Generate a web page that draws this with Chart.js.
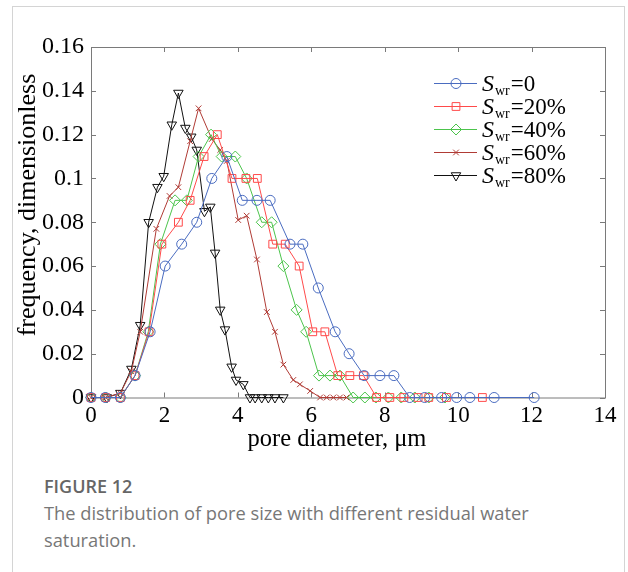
<!DOCTYPE html>
<html>
<head>
<meta charset="utf-8">
<script src="https://cdn.jsdelivr.net/npm/chart.js@4"></script>
<style>
  body { margin: 0; background: #fff; width: 628px; height: 572px; position: relative; overflow: hidden; }
  #card { position: absolute; left: 12px; top: 6px; width: 611px; height: 620px; border: 1px solid #d4d4d4; border-bottom: none; }
  #chart { position: absolute; left: 0; top: 0; }
  #caption { position: absolute; left: 44px; top: 474px; font-family: "Open Sans", sans-serif; color: #777; }
  #caption .fig { font-weight: 600; font-size: 18px; color: #666; line-height: 24px; }
  #caption .txt { font-size: 18.3px; line-height: 27px; margin-top: 1px; }
</style>
</head>
<body>
<div id="card"></div>
<canvas id="chart" width="628" height="470"></canvas>
<div id="caption">
  <div class="fig">FIGURE 12</div>
  <div class="txt">The distribution of pore size with different residual water<br>saturation.</div>
</div>
<script>
// pore diameter (um) / frequency
const sw0X = [0, 0.39, 0.8, 1.2, 1.61, 2.02, 2.47, 2.88, 3.29, 3.70, 4.12, 4.52, 4.88, 5.42, 5.77, 6.19, 6.65, 7.03, 7.44, 7.87, 8.25, 8.68, 9.09, 9.55, 9.96, 10.32, 10.98, 12.07];
const sw0Y = [0, 0, 0, 0.01, 0.03, 0.06, 0.07, 0.08, 0.10, 0.11, 0.09, 0.09, 0.09, 0.07, 0.07, 0.05, 0.03, 0.02, 0.01, 0.01, 0.01, 0, 0, 0, 0, 0, 0, 0];

const sw20X = [0, 0.4, 0.8, 1.2, 1.58, 1.93, 2.38, 2.70, 3.08, 3.44, 3.84, 4.22, 4.53, 4.95, 5.29, 5.67, 6.04, 6.37, 6.72, 7.05, 7.42, 7.78, 8.14, 8.52, 8.91, 9.2, 9.68, 10.66];
const sw20Y = [0, 0, 0, 0.01, 0.03, 0.07, 0.08, 0.09, 0.11, 0.12, 0.10, 0.10, 0.10, 0.07, 0.07, 0.06, 0.03, 0.03, 0.01, 0.01, 0.01, 0, 0, 0, 0, 0, 0, 0];

const sw40X = [0, 0.4, 0.8, 1.2, 1.56, 1.89, 2.29, 2.61, 2.93, 3.27, 3.56, 3.93, 4.24, 4.65, 4.92, 5.24, 5.60, 5.86, 6.21, 6.51, 6.78, 7.14, 7.46, 7.76, 8.1, 8.45, 8.82, 9.2, 9.64];
const sw40Y = [0, 0, 0, 0.01, 0.03, 0.07, 0.09, 0.09, 0.11, 0.12, 0.11, 0.11, 0.10, 0.08, 0.08, 0.06, 0.04, 0.03, 0.01, 0.01, 0.01, 0, 0, 0, 0, 0, 0, 0, 0];

const sw60X = [0, 0.4, 0.8, 1.1, 1.34, 1.78, 2.14, 2.38, 2.70, 2.93, 3.29, 3.52, 3.70, 4.01, 4.24, 4.52, 4.79, 5.01, 5.24, 5.51, 5.69, 5.97, 6.24, 6.42, 6.6, 6.78, 6.96];
const sw60Y = [0, 0, 0.002, 0.012, 0.03, 0.077, 0.092, 0.096, 0.117, 0.132, 0.118, 0.113, 0.108, 0.081, 0.083, 0.063, 0.039, 0.03, 0.015, 0.008, 0.006, 0.003, 0, 0, 0, 0, 0];

const sw80X = [0, 0.43, 0.8, 1.1, 1.34, 1.57, 1.81, 1.98, 2.2, 2.38, 2.57, 2.73, 2.88, 3.09, 3.25, 3.38, 3.52, 3.65, 3.83, 3.95, 4.15, 4.33, 4.47, 4.65, 4.83, 5.01, 5.24];
const sw80Y = [0, 0, 0.002, 0.013, 0.033, 0.08, 0.096, 0.101, 0.1245, 0.139, 0.123, 0.119, 0.113, 0.085, 0.087, 0.066, 0.04, 0.031, 0.014, 0.008, 0.006, 0, 0, 0, 0, 0, 0];

const legendValues = ['0', '20%', '40%', '60%', '80%'];
const xTicks = [0, 2, 4, 6, 8, 10, 12, 14];
const yTicks = [0, 0.02, 0.04, 0.06, 0.08, 0.1, 0.12, 0.14, 0.16];
const xTitle = 'pore diameter, μm';
const yTitle = 'frequency, dimensionless';

const serif = '"Liberation Serif", "Times New Roman", serif';

function pts(xs, ys) {
    return xs.map((x, i) => ({ x: x, y: ys[i] }));
}

const seriesStyle = [
    { color: '#4a6cc0', style: 'circle', radius: 5, rotation: 0 },
    { color: '#ff4a4a', style: 'rect', radius: 5.5, rotation: 0 },
    { color: '#4cc44c', style: 'rectRot', radius: 5.5, rotation: 0 },
    { color: '#b03b35', style: 'crossRot', radius: 4, rotation: 0 },
    { color: '#111111', style: 'triangle', radius: 5.5, rotation: 180 }
];

const allData = [pts(sw0X, sw0Y), pts(sw20X, sw20Y), pts(sw40X, sw40Y), pts(sw60X, sw60Y), pts(sw80X, sw80Y)];

const datasets = allData.map((d, i) => ({
    label: 'Swr=' + legendValues[i],
    data: d,
    showLine: true,
    borderColor: seriesStyle[i].color,
    backgroundColor: 'rgba(0,0,0,0)',
    borderWidth: 1,
    pointStyle: seriesStyle[i].style,
    pointRadius: seriesStyle[i].radius,
    pointRotation: seriesStyle[i].rotation,
    pointBorderWidth: 1,
    pointBorderColor: seriesStyle[i].color,
    pointBackgroundColor: 'rgba(0,0,0,0)',
    clip: false
}));

// box around the plot with inward ticks, plus the axis titles
const framePlugin = {
    id: 'frame',
    beforeDatasetsDraw(chart) {
        const { ctx, chartArea: a, scales } = chart;
        ctx.save();
        ctx.strokeStyle = '#7a7a7a';
        ctx.lineWidth = 1;
        ctx.strokeRect(a.left + 0.5, a.top + 0.5, a.right - a.left, a.bottom - a.top);
        ctx.beginPath();
        xTicks.forEach(v => {
            const px = Math.round(scales.x.getPixelForValue(v)) + 0.5;
            ctx.moveTo(px, a.bottom); ctx.lineTo(px, a.bottom - 5);
            ctx.moveTo(px, a.top); ctx.lineTo(px, a.top + 5);
        });
        yTicks.forEach(v => {
            const py = Math.round(scales.y.getPixelForValue(v)) + 0.5;
            ctx.moveTo(a.left, py); ctx.lineTo(a.left + 5, py);
            ctx.moveTo(a.right, py); ctx.lineTo(a.right - 5, py);
        });
        ctx.stroke();

        ctx.fillStyle = '#000';
        ctx.textAlign = 'center';
        ctx.textBaseline = 'middle';
        ctx.font = '24.5px ' + serif;
        ctx.fillText(xTitle, 337, 440);
        ctx.font = '26px ' + serif;
        ctx.translate(28, 205);
        ctx.rotate(-Math.PI / 2);
        ctx.fillText(yTitle, 0, 0);
        ctx.restore();
    }
};

// legend with italic S and subscript wr
const legendPlugin = {
    id: 'swrLegend',
    afterDraw(chart) {
        const ctx = chart.ctx;
        const rows = [83, 106, 129, 152, 175];
        ctx.save();
        rows.forEach((y, i) => {
            const s = seriesStyle[i];
            ctx.strokeStyle = s.color;
            ctx.fillStyle = 'rgba(0,0,0,0)';
            ctx.lineWidth = 1;
            ctx.beginPath();
            ctx.moveTo(434, y + 0.5);
            ctx.lineTo(477, y + 0.5);
            ctx.stroke();
            Chart.helpers.drawPoint(ctx, { pointStyle: s.style, radius: s.radius, rotation: s.rotation, borderWidth: 1 }, 456, y + 0.5);

            ctx.fillStyle = '#000';
            ctx.textBaseline = 'alphabetic';
            ctx.font = 'italic 24px ' + serif;
            ctx.fillText('S', 482, y + 8);
            const sw = ctx.measureText('S').width;
            ctx.font = '14px ' + serif;
            ctx.fillText('wr', 482 + sw + 1, y + 12);
            const ww = ctx.measureText('wr').width;
            ctx.font = '23px ' + serif;
            ctx.fillText('=' + legendValues[i], 482 + sw + ww + 2, y + 8);
        });
        ctx.restore();
    }
};

new Chart(document.getElementById('chart'), {
    type: 'scatter',
    data: { datasets: datasets },
    options: {
        responsive: false,
        animation: false,
        layout: { padding: { top: 47, right: 23, left: 0, bottom: 0 } },
        plugins: {
            legend: { display: false },
            tooltip: { enabled: false }
        },
        scales: {
            x: {
                type: 'linear',
                min: 0,
                max: 14,
                afterBuildTicks: scale => { scale.ticks = xTicks.map(v => ({ value: v })); },
                afterFit: scale => { scale.height = 72.5; },
                grid: { display: false, drawTicks: false },
                border: { display: false },
                ticks: { color: '#000', font: { family: serif, size: 23 }, padding: 5, maxRotation: 0 }
            },
            y: {
                type: 'linear',
                min: 0,
                max: 0.16,
                afterBuildTicks: scale => { scale.ticks = yTicks.map(v => ({ value: v })); },
                afterFit: scale => { scale.width = 91; },
                grid: { display: false, drawTicks: false },
                border: { display: false },
                ticks: {
                    color: '#000',
                    font: { family: serif, size: 24 },
                    padding: 7,
                    callback: v => String(+v.toFixed(2))
                }
            }
        }
    },
    plugins: [framePlugin, legendPlugin]
});
</script>
</body>
</html>
